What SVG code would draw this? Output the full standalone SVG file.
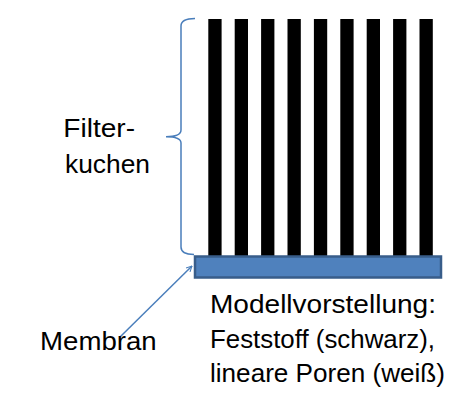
<svg xmlns="http://www.w3.org/2000/svg" width="471" height="415" viewBox="0 0 471 415">
  <defs>
    <style>
      .lbl { font-family: "Liberation Sans", "Open Sans", sans-serif; font-size: 26px; fill: #000; }
      .solid { fill: #000; }
      .blue-line { fill: none; stroke: #4A7EBB; stroke-width: 1.5; }
    </style>
    <marker id="open-arrow" viewBox="0 0 10 10" refX="9" refY="5" markerWidth="7" markerHeight="7" orient="auto" markerUnits="userSpaceOnUse">
      <path d="M1,1 L9,5 L1,9" fill="none" stroke="#4A7EBB" stroke-width="1.5"/>
    </marker>
  </defs>
  <rect width="471" height="415" fill="#fff"/>

  <!-- filter cake: solid bars with linear pores between -->
  <g id="filterkuchen">
    <rect class="solid" x="208.3" y="19" width="13.3" height="237"/>
    <rect class="solid" x="234.7" y="19" width="13.3" height="237"/>
    <rect class="solid" x="261.1" y="19" width="13.3" height="237"/>
    <rect class="solid" x="287.5" y="19" width="13.3" height="237"/>
    <rect class="solid" x="313.9" y="19" width="13.3" height="237"/>
    <rect class="solid" x="340.3" y="19" width="13.3" height="237"/>
    <rect class="solid" x="366.7" y="19" width="13.3" height="237"/>
    <rect class="solid" x="393.1" y="19" width="13.3" height="237"/>
    <rect class="solid" x="419.5" y="19" width="13.3" height="237"/>
  </g>

  <!-- membrane -->
  <g id="membran">
    <rect x="195" y="256.5" width="246" height="21" fill="#4F81BD" stroke="#385D8A" stroke-width="2.5"/>
  </g>

  <!-- brace and pointer -->
  <g id="connectors">
    <path class="blue-line" d="M195,18.5 Q181,18.5 181,26 V130 Q181,136.7 166,136.7 Q181,136.7 181,143 V247 Q181,254.5 194,254.5"/>
    <line class="blue-line" x1="120" y1="337" x2="192" y2="266" marker-end="url(#open-arrow)"/>
  </g>

  <g id="label-filterkuchen">
    <text class="lbl" x="63.3" y="136.7" textLength="71.7" lengthAdjust="spacingAndGlyphs">Filter-</text>
    <text class="lbl" x="65" y="172.7" textLength="85" lengthAdjust="spacingAndGlyphs">kuchen</text>
  </g>

  <g id="label-membran">
    <text class="lbl" x="40" y="350" textLength="116.7" lengthAdjust="spacingAndGlyphs">Membran</text>
  </g>

  <g id="label-modell">
    <text class="lbl" x="210" y="313.3" textLength="226" lengthAdjust="spacingAndGlyphs">Modellvorstellung:</text>
    <text class="lbl" x="210" y="348.3" textLength="225" lengthAdjust="spacingAndGlyphs">Feststoff (schwarz),</text>
    <text class="lbl" x="210" y="381.7" textLength="235" lengthAdjust="spacingAndGlyphs">lineare Poren (weiß)</text>
  </g>
</svg>
